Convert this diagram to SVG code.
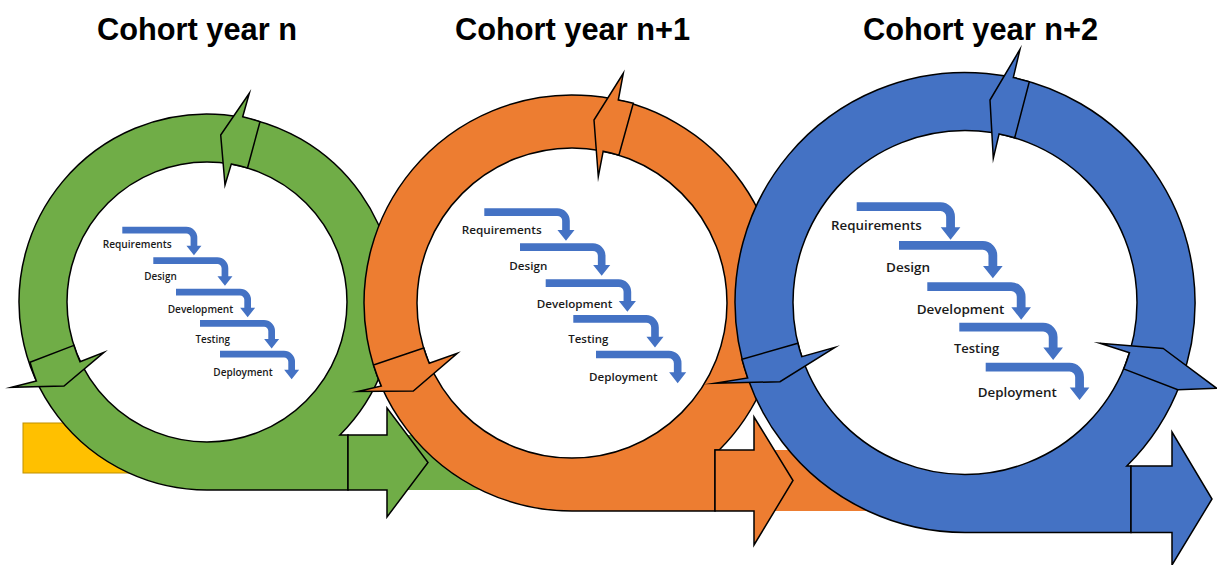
<svg xmlns="http://www.w3.org/2000/svg" xmlns:xlink="http://www.w3.org/1999/xlink" width="1217" height="565" viewBox="0 0 1217 565">
<style>
.edge{stroke:#000;stroke-width:1.5;stroke-linejoin:miter;stroke-miterlimit:20}
.g{fill:#70AD47}.o{fill:#ED7D31}.b{fill:#4472C4}
.step{fill:#4472C4}
.lbl{font-family:"Open Sans","Liberation Sans",sans-serif;font-weight:600;fill:#1a1a1a}
.title{font-family:"Liberation Sans",Arial,sans-serif;font-weight:bold;font-size:31px;fill:#000}
</style>
<defs>
<path id="step" d="M0 0 H64 A11 11 0 0 1 75 11 V19 H79.15 L71.65 28.5 L64.15 19 H68.3 V11 A4.3 4.3 0 0 0 64 6.7 H0 Z"/>
</defs>
<rect width="1217" height="565" fill="#fff"/>

<g id="titles">
<text class="title" x="97" y="40" textLength="200" lengthAdjust="spacingAndGlyphs">Cohort year n</text>
<text class="title" x="455" y="40" textLength="235" lengthAdjust="spacingAndGlyphs">Cohort year n+1</text>
<text class="title" x="863" y="40" textLength="235" lengthAdjust="spacingAndGlyphs">Cohort year n+2</text>
</g>

<g id="connectors">
<rect x="23" y="423" width="112" height="50" fill="#FFC000" stroke="#BF9000" stroke-width="1"/>
<rect x="360" y="435" width="128" height="55" fill="#70AD47"/>
<rect x="740" y="450" width="133" height="61" fill="#ED7D31"/>
</g>

<g id="cycle-n">
<path class="g edge" fill-rule="evenodd" d="M339.9 435 A188 188 0 1 0 207 490 L348 490 L348 435 Z M347 302 A140 140 0 1 0 67 302 A140 140 0 1 0 347 302 Z"/>
<path class="g edge" d="M249.3 93.3 L242.7 116.7 A188 188 0 0 1 260 121.7 L247.5 168 A140 140 0 0 0 231.3 164.1 L225 185 L220.7 135 Z"/>
<path class="g edge" d="M11.7 387.3 L36.4 381 A188 188 0 0 1 30 362.3 L73.9 345.4 A140 140 0 0 0 80 361.7 L104 352.3 L64 386 Z"/>
<path class="g edge" d="M348 435 H387 V408 L428 462.5 L387 517 V490 H348 Z"/>
<g id="steps-n">
<use href="#step" class="step" transform="translate(122.3 226.7)"/>
<use href="#step" class="step" transform="translate(153.3 257.3)"/>
<use href="#step" class="step" transform="translate(176 288.7)"/>
<use href="#step" class="step" transform="translate(200 320)"/>
<use href="#step" class="step" transform="translate(220 350.7)"/>
<g class="lbl" font-size="10">
<text x="102.7" y="248.3" textLength="69" lengthAdjust="spacingAndGlyphs">Requirements</text>
<text x="144.3" y="279.5" textLength="32.4" lengthAdjust="spacingAndGlyphs">Design</text>
<text x="167.7" y="312.5" textLength="65.6" lengthAdjust="spacingAndGlyphs">Development</text>
<text x="195.5" y="342.5" textLength="34.5" lengthAdjust="spacingAndGlyphs">Testing</text>
<text x="213.3" y="376" textLength="59.4" lengthAdjust="spacingAndGlyphs">Deployment</text>
</g>
</g>
</g>

<g id="cycle-n1">
<path class="o edge" fill-rule="evenodd" d="M719.2 450 A208 208 0 1 0 572 511 L715 511 L715 450 Z M727 303 A155 155 0 1 0 417 303 A155 155 0 1 0 727 303 Z"/>
<path class="o edge" d="M623.3 73.3 L618.3 100 A208 208 0 0 1 633.3 103.3 L618.9 155.3 A155 155 0 0 0 603.2 151.2 L598.3 176.7 L594 120 Z"/>
<path class="o edge" d="M358 391.5 L381.3 386 A208 208 0 0 1 373.5 365 L423.7 348 A155 155 0 0 0 429.2 363.3 L457.3 353.3 L413.3 391 Z"/>
<path class="o edge" d="M715 450 H754 V417 L793 480.5 L754 545 V511 H715 Z"/>
<g id="steps-n1">
<use href="#step" class="step" transform="translate(484.3 208.3) scale(1.14)"/>
<use href="#step" class="step" transform="translate(520 243.3) scale(1.14)"/>
<use href="#step" class="step" transform="translate(545.7 279.3) scale(1.14)"/>
<use href="#step" class="step" transform="translate(573.3 315) scale(1.14)"/>
<use href="#step" class="step" transform="translate(596 350.7) scale(1.14)"/>
<g class="lbl" font-size="11.5">
<text x="461.7" y="234" textLength="80" lengthAdjust="spacingAndGlyphs">Requirements</text>
<text x="509.3" y="270" textLength="38" lengthAdjust="spacingAndGlyphs">Design</text>
<text x="536.7" y="307.7" textLength="75.7" lengthAdjust="spacingAndGlyphs">Development</text>
<text x="568.3" y="342.7" textLength="40" lengthAdjust="spacingAndGlyphs">Testing</text>
<text x="589" y="380.7" textLength="68.7" lengthAdjust="spacingAndGlyphs">Deployment</text>
</g>
</g>
</g>

<g id="cycle-n2">
<path class="b edge" fill-rule="evenodd" d="M1126.8 466 A230 230 0 1 0 965 532.5 L1131 532.5 L1131 466 Z M1137 302.5 A172 172 0 1 0 793 302.5 A172 172 0 1 0 1137 302.5 Z"/>
<path class="b edge" d="M1020 49.3 L1013.3 77.6 A230 230 0 0 1 1029.3 81.7 L1014.7 137.8 A172 172 0 0 0 999.1 133.9 L993.3 158.3 L990 100 Z"/>
<path class="b edge" d="M715 383.3 L747.7 378 A230 230 0 0 1 742 359.3 L797.9 343.3 A172 172 0 0 0 801.8 356.7 L835 347.3 L780 381.7 Z"/>
<path class="b edge" d="M1163.3 348.5 L1216.7 388.3 L1177.8 389.8 L1123.7 368.9 A172 172 0 0 0 1129.5 352.8 L1100 343.3 Z"/>
<path class="b edge" d="M1131 466 H1172 V432 L1212 499 L1172 565 V532.5 H1131 Z"/>
<g id="steps-n2">
<use href="#step" class="step" transform="translate(856.7 202.3) scale(1.31)"/>
<use href="#step" class="step" transform="translate(899 241) scale(1.31)"/>
<use href="#step" class="step" transform="translate(927.3 282.3) scale(1.31)"/>
<use href="#step" class="step" transform="translate(959.3 322.7) scale(1.31)"/>
<use href="#step" class="step" transform="translate(985.7 362.7) scale(1.31)"/>
<g class="lbl" font-size="13">
<text x="831" y="230" textLength="90.7" lengthAdjust="spacingAndGlyphs">Requirements</text>
<text x="886" y="271.7" textLength="44" lengthAdjust="spacingAndGlyphs">Design</text>
<text x="916.7" y="314" textLength="87.7" lengthAdjust="spacingAndGlyphs">Development</text>
<text x="954" y="353.3" textLength="45.3" lengthAdjust="spacingAndGlyphs">Testing</text>
<text x="977.7" y="396.7" textLength="79" lengthAdjust="spacingAndGlyphs">Deployment</text>
</g>
</g>
</g>
</svg>
